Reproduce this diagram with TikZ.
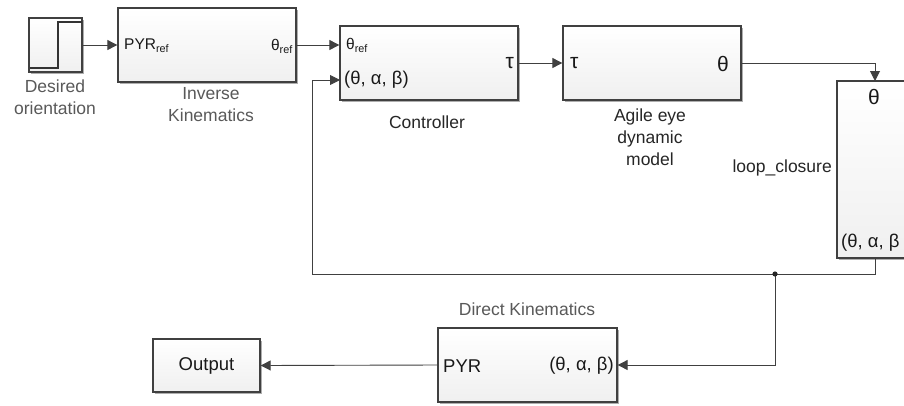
\documentclass[tikz,border=0pt]{standalone}
\usepackage{fontspec}
\setmainfont{Liberation Sans}
\usetikzlibrary{arrows.meta,shadows,calc}
\begin{document}
\begin{tikzpicture}[x=1pt,y=-1pt,
 blk/.style={draw=black!75, line width=1.3pt, rectangle, inner sep=0pt,
   top color=white, bottom color=black!6,
   drop shadow={shadow xshift=2pt,shadow yshift=-2pt,fill=black!45,opacity=0.7}},
 lbl/.style={font=\fontsize{17.5}{22}\selectfont, text=black!85, align=center, inner sep=0pt},
 glbl/.style={lbl, text=black!65},
 prt/.style={font=\fontsize{18.5}{22}\selectfont, text=black!90, inner sep=0pt},
 sprt/.style={font=\fontsize{15.5}{18}\selectfont, text=black!90, inner sep=0pt},
 bprt/.style={font=\fontsize{21}{24}\selectfont, text=black!90, inner sep=0pt},
 wire/.style={draw=black!75, line width=0.9pt},
 arr/.style={wire, -{Triangle[length=10pt,width=10pt]}},
]
\useasboundingbox (0,0) rectangle (904,405);
\begin{scope}
\clip (0,0) rectangle (904,405);
\fill[white] (0,0) rectangle (904,405);

% blocks
\node[blk, minimum width=53pt, minimum height=54pt] (step) at (55.5,45) {};
\draw[line width=2pt, black!80] (29.5,68) -- (58,68) -- (58,22) -- (81.5,22);
\node[blk, minimum width=178pt, minimum height=74pt] (ik) at (207,45) {};
\node[blk, minimum width=178pt, minimum height=74pt] (ctrl) at (429,63) {};
\node[blk, minimum width=178pt, minimum height=74pt] (agile) at (652,63) {};
\node[blk, minimum width=103pt, minimum height=177pt] (loop) at (888.5,169.5) {};
\node[blk, minimum width=179pt, minimum height=74pt] (dk) at (527.5,365) {};
\node[blk, minimum width=107pt, minimum height=53pt] (out) at (206.5,365.5) {};

% block names
\node[glbl] (lstep) at (55,97) {Desired\\orientation};
\node[glbl] (lik) at (211,104.5) {Inverse\\Kinematics};
\node[lbl] (lctrl) at (427,122) {Controller};
\node[lbl] (lagile) at (650,137) {Agile eye\\dynamic\\model};
\node[lbl, anchor=east] (lloop) at (832,168) {loop\_closure};
\node[glbl] (ldk) at (527,309) {Direct Kinematics};

% port labels
\node[sprt, anchor=west] (pik1) at (124,46) {PYR\textsubscript{ref}};
\node[sprt, anchor=east] (pik2) at (293,46) {θ\textsubscript{ref}};
\node[sprt, anchor=west] (pc1) at (346,45) {θ\textsubscript{ref}};
\node[prt, anchor=west] (pc2) at (344,80) {(θ, α, β)};
\node[bprt, anchor=east] (pc3) at (514,63) {τ};
\node[bprt, anchor=west] (pa1) at (570,63) {τ};
\node[bprt, anchor=east] (pa2) at (729,64) {θ};
\node[bprt] (pl1) at (874,97) {θ};
\node[prt, anchor=west] (pl2) at (841,243) {(θ, α, β};
\node[prt, anchor=west] (pd1) at (443,366) {PYR};
\node[prt, anchor=east] (pd2) at (614,366) {(θ, α, β)};
\node[prt] (po) at (206.5,366) {Output};

% port coordinates
\coordinate (cin2) at (340,80);
\coordinate (lin) at (875,81);
\coordinate (lout) at (875,258);
\coordinate (j) at (775,274);
\coordinate (fbc) at (312,274);

% connectors
\draw[arr] (step.east) -- (ik.west);
\draw[arr] (ik.east) -- (ik.east -| ctrl.west);
\draw[arr] (ctrl.east) -- (agile.west);
\draw[arr] (agile.east) -| (lin);
\draw[arr] (lout) |- (fbc) |- (cin2);
\draw[arr] (j) |- (dk.east);
\fill[black!85] (j) circle (2.6);
\draw[arr] (dk.west) -- (out.east);
\end{scope}
\end{tikzpicture}
\end{document}
